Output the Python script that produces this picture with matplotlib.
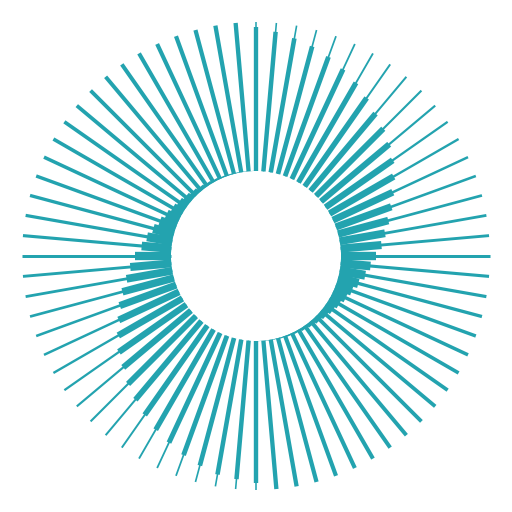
import numpy as np
import matplotlib
matplotlib.use("Agg")
import matplotlib.pyplot as plt

# 72 spokes, one every 5 degrees, clockwise from the top
spokes = list(range(72))

# length of the thick bar (0-100 of the track)
values = [96.6, 94.0, 91.3, 88.6, 85.2, 81.2, 77.2, 72.5, 67.8, 63.8,
          59.7, 55.0, 49.7, 44.3, 39.6, 34.9, 30.9, 27.5, 23.5, 20.1,
          17.4, 14.1, 11.4, 9.4, 7.4, 6.0, 4.7, 3.7, 2.7, 2.0,
          1.3, 1.0, 0.7, 0.3, 0.2, 0.1,
          95.3, 93.3, 91.9, 88.6, 85.2, 81.2, 77.6, 73.2, 68.9, 64.4,
          59.3, 55.3, 49.7, 44.6, 40.3, 35.8, 31.2, 27.7, 24.2, 20.0,
          17.2, 14.3, 11.6, 9.2, 7.5, 6.1, 4.8, 3.6, 2.6, 1.9,
          1.4, 0.9, 0.6, 0.4, 0.2, 0.1]

# every spoke has the same full track
track = [100] * 72

color = "#23a3af"
hole = 57.0          # empty centre, in value units
px_per_unit = 1.49   # figure pixels per value unit
pt_per_px = 72 / 100

fig = plt.figure(figsize=(5.12, 5.12), dpi=100)
ax = fig.add_axes([0, 0, 1, 1], polar=True)
ax.set_theta_zero_location("N")
ax.set_theta_direction(-1)

theta = np.deg2rad(np.array(spokes) * 5)
for th, v, t in zip(theta, values, track):
    # width of a spoke grows as its bar gets shorter
    thin_px = 1.5 + 2.9 * (1 - np.sqrt(v / 100))
    ax.plot([th, th], [hole, hole + t], color=color,
            lw=thin_px * pt_per_px, solid_capstyle="butt")
    ax.plot([th, th], [hole, hole + v], color=color,
            lw=thin_px * 2.8 * pt_per_px, solid_capstyle="butt")

ax.set_ylim(0, 256 / px_per_unit)
ax.grid(False)
ax.set_xticks([])
ax.set_yticks([])
ax.spines["polar"].set_visible(False)
ax.set_facecolor("white")

fig.savefig("out.png", dpi=100, facecolor="white")
